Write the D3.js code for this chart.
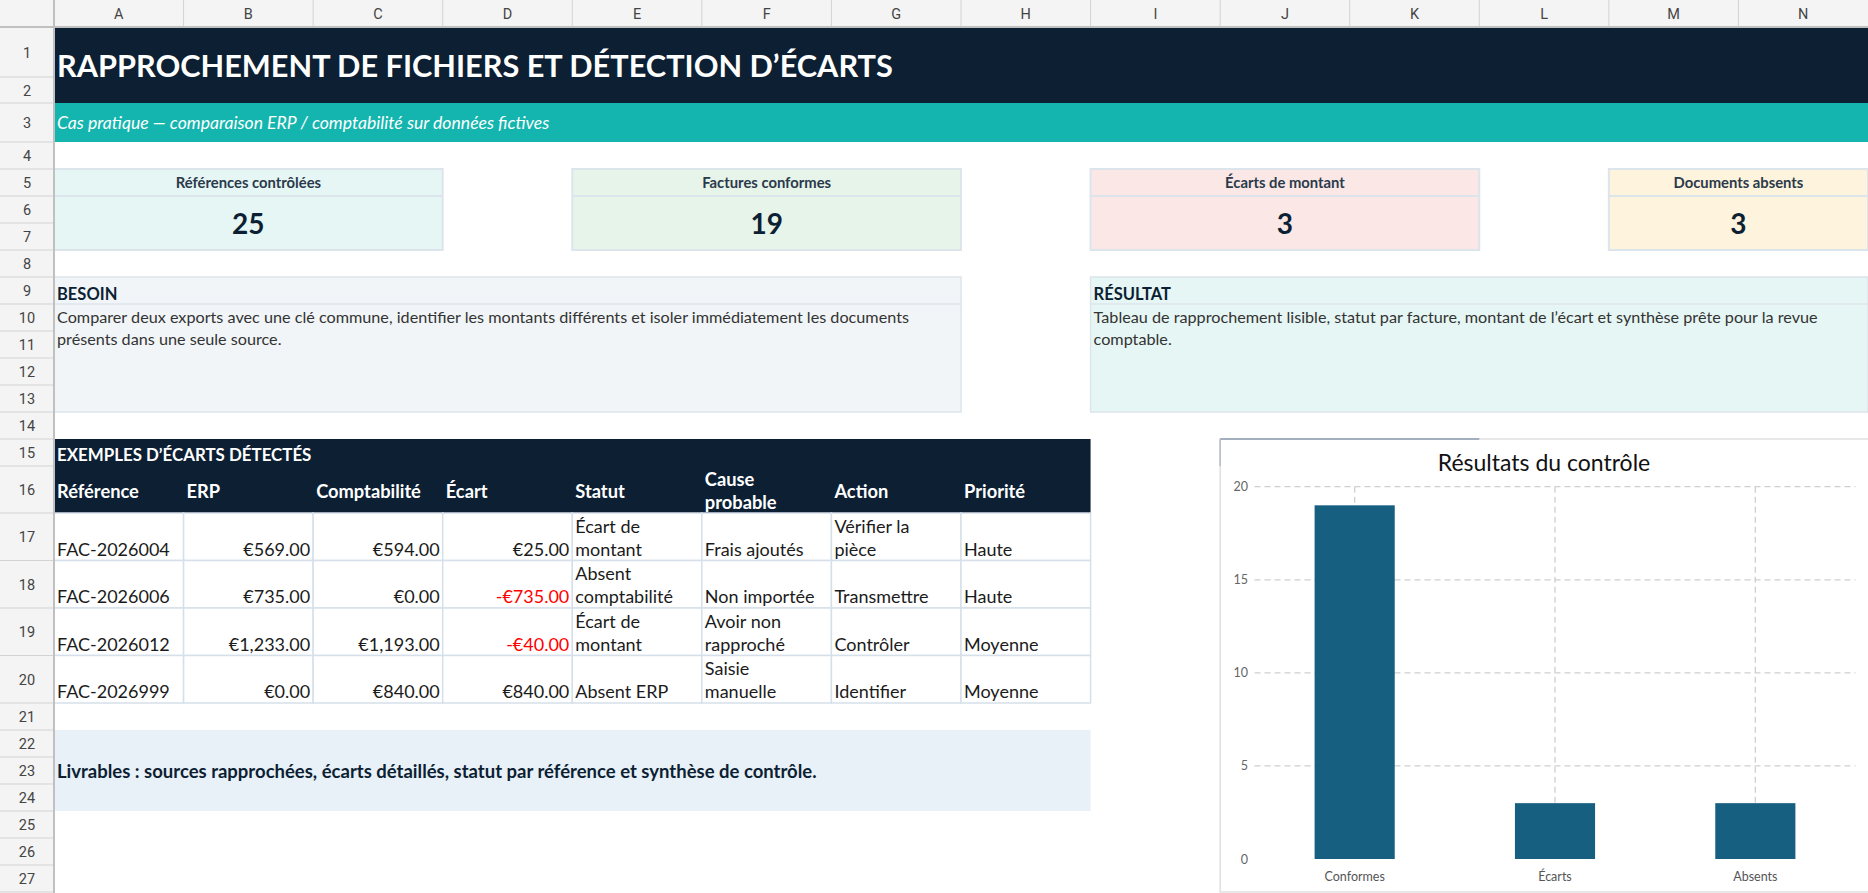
<!DOCTYPE html>
<html><head><meta charset="utf-8">
<script src="https://cdn.jsdelivr.net/npm/d3@7"></script>
<style>body{margin:0;background:#fff;overflow:hidden}svg{display:block}</style>
</head><body><svg id="s" width="1868" height="893"></svg>
<script>
// ---------- data ----------
const sheetTitle = "RAPPROCHEMENT DE FICHIERS ET DÉTECTION D’ÉCARTS";
const sheetSubtitle = "Cas pratique — comparaison ERP / comptabilité sur données fictives";
const colLetters = ["A","B","C","D","E","F","G","H","I","J","K","L","M","N"];
const kpiLabels = ["Références contrôlées","Factures conformes","Écarts de montant","Documents absents"];
const kpiValues = [25, 19, 3, 3];
const besoinTitle = "BESOIN";
const besoinText = "Comparer deux exports avec une clé commune, identifier les montants différents et isoler immédiatement les documents présents dans une seule source.";
const resultatTitle = "RÉSULTAT";
const resultatText = "Tableau de rapprochement lisible, statut par facture, montant de l’écart et synthèse prête pour la revue comptable.";
const tableTitle = "EXEMPLES D’ÉCARTS DÉTECTÉS";
const tableHeaders = ["Référence","ERP","Comptabilité","Écart","Statut","Cause probable","Action","Priorité"];
const references = ["FAC-2026004","FAC-2026006","FAC-2026012","FAC-2026999"];
const erpAmounts = [569, 735, 1233, 0];
const comptaAmounts = [594, 0, 1193, 840];
const ecartAmounts = [25, -735, -40, 840];
const statuts = ["Écart de montant","Absent comptabilité","Écart de montant","Absent ERP"];
const causes = ["Frais ajoutés","Non importée","Avoir non rapproché","Saisie manuelle"];
const actions = ["Vérifier la pièce","Transmettre","Contrôler","Identifier"];
const priorites = ["Haute","Haute","Moyenne","Moyenne"];
const livrablesText = "Livrables : sources rapprochées, écarts détaillés, statut par référence et synthèse de contrôle.";
const chartTitle = "Résultats du contrôle";
const chartCategories = ["Conformes","Écarts","Absents"];
const chartValues = [19, 3, 3];
const yTicks = [0, 5, 10, 15, 20];

// ---------- layout ----------
const W = 1868, H = 893;
const rowHeadW = 54, colHeadH = 27;
const colW = (W - rowHeadW) / 14;
const rowHeights = [50,26,39,27,27,27,27,27,27,27,27,27,27,27,27,47,47.5,47.5,47.5,47.5,27,27,27,27,27,27,27];
const rowTop = [colHeadH];
rowHeights.forEach((h,i)=>rowTop.push(rowTop[i]+h));
const cx = c => rowHeadW + c*colW;          // c: 0-based column index
const ry = r => rowTop[r-1];                 // r: 1-based row number
const FONT = "Lato, 'Noto Sans', sans-serif";
const NAVY = "#0c1f33";
const DATA_FS = 18, HEAD_FS = 18.3;
const WRAP_W = colW - 12;

const svg = d3.select("#s");
const ctx = document.createElement("canvas").getContext("2d");
function wrap(t, maxW, font){
  ctx.font = font;
  const words = t.split(" "); const lines=[]; let cur="";
  words.forEach(w=>{ const s = cur? cur+" "+w : w;
    if (ctx.measureText(s).width > maxW && cur){ lines.push(cur); cur=w; } else cur=s; });
  if(cur) lines.push(cur); return lines;
}
function rect(x,y,w,h,fill,stroke,sw){ return svg.append("rect").attr("x",x).attr("y",y).attr("width",w).attr("height",h)
  .attr("fill",fill||"none").attr("stroke",stroke||"none").attr("stroke-width",sw||1); }
function text(x,y,t,o){ o=o||{}; return svg.append("text").attr("x",x).attr("y",y).text(t)
  .attr("font-family",o.family||FONT).attr("font-size",o.size||17).attr("font-weight",o.weight||"normal")
  .attr("font-style",o.style||"normal").attr("fill",o.fill||"#1b1b1b").attr("text-anchor",o.anchor||"start"); }

rect(0,0,W,H,"#fff");

// ---------- banners ----------
rect(cx(0), ry(1), W-cx(0), ry(3)-ry(1), NAVY);
text(cx(0)+3, ry(1)+ (ry(3)-ry(1))/2 + 12, sheetTitle, {size:30.7, weight:"bold", fill:"#fff"});
rect(cx(0), ry(3), W-cx(0), rowHeights[2], "#13b5ae");
text(cx(0)+3, ry(3)+rowHeights[2]/2+6, sheetSubtitle, {size:17.6, style:"italic", fill:"#fff"});

// ---------- KPI cards ----------
const kpiCols = [[0,3],[4,7],[8,11],[12,14]];
const kpiFills = ["#e6f6f5","#e7f4ea","#fbe8e6","#fef3dc"];
kpiLabels.forEach((lab,i)=>{
  const x0=cx(kpiCols[i][0]), x1=cx(kpiCols[i][1]);
  const y0=ry(5), y1=ry(6), y2=ry(8);
  rect(x0,y0,x1-x0,y2-y0,kpiFills[i],"#dce5ec",2);
  svg.append("line").attr("x1",x0).attr("x2",x1).attr("y1",y1).attr("y2",y1).attr("stroke","#dce5ec").attr("stroke-width",2);
  text((x0+x1)/2, (y0+y1)/2+5.5, lab, {size:14.8, weight:"bold", fill:"#2b3a4a", anchor:"middle"});
  text((x0+x1)/2, (y1+y2)/2+11, kpiValues[i], {size:28, weight:"bold", fill:NAVY, anchor:"middle"});
});

// ---------- BESOIN / RÉSULTAT ----------
function infoBox(c0,c1,title,body,fill){
  const x0=cx(c0), x1=cx(c1), y0=ry(9), y1=ry(10), y2=ry(14);
  rect(x0,y0,x1-x0,y2-y0,fill,"#dce5ec",1.5);
  svg.append("line").attr("x1",x0).attr("x2",x1).attr("y1",y1).attr("y2",y1).attr("stroke","#dce5ec").attr("stroke-width",1.5);
  text(x0+3, y1-4.5, title, {size:16.5, weight:"bold", fill:NAVY});
  wrap(body, x1-x0-8, "16.2px Lato").forEach((l,k)=> text(x0+3, y1+19+k*22, l, {size:16.2, fill:"#333"}));
}
infoBox(0,7,besoinTitle,besoinText,"#f1f5f8");
infoBox(8,14,resultatTitle,resultatText,"#e5f6f4");

// ---------- table ----------
const tX0=cx(0), tX1=cx(8);
rect(tX0, ry(15), tX1-tX0, ry(17)-ry(15), NAVY);
text(tX0+3, ry(16)-5.5, tableTitle, {size:16.9, weight:"bold", fill:"#fff"});
const LH = 23;
tableHeaders.forEach((h,c)=>{
  const lines = wrap(h, WRAP_W, `bold ${HEAD_FS}px Lato`);
  const mid = (ry(16)+ry(17))/2;
  lines.forEach((l,k)=> text(cx(c)+3, mid - (lines.length-1)*LH/2 + k*LH + 8, l, {size:HEAD_FS, weight:"bold", fill:"#fff"}));
});
const money = v => (v<0?"-":"") + "€" + d3.format(",.2f")(Math.abs(v));
const rows = references.map((r,i)=>[r, erpAmounts[i], comptaAmounts[i], ecartAmounts[i], statuts[i], causes[i], actions[i], priorites[i]]);
rows.forEach((row,i)=>{
  const r = 17+i, y0=ry(r), y1=ry(r+1);
  row.forEach((v,c)=> rect(cx(c), y0, colW, y1-y0, "#fff", "#d6e0ea", 1.5));
  row.forEach((v,c)=>{
    if (typeof v === "number"){
      text(cx(c+1)-3, y1-5, money(v), {size:DATA_FS, anchor:"end", fill: v<0 ? "#ff0000" : "#1b1b1b"});
    } else {
      const lines = wrap(v, WRAP_W, `${DATA_FS}px Lato`);
      lines.forEach((l,k)=> text(cx(c)+3, y1-5-(lines.length-1-k)*LH, l, {size:DATA_FS}));
    }
  });
});

// ---------- livrables ----------
rect(cx(0), ry(22), cx(8)-cx(0), ry(25)-ry(22), "#e8f0f8");
text(cx(0)+3, (ry(22)+ry(25))/2+7, livrablesText, {size:18.5, weight:"bold", fill:NAVY});

// ---------- chart ----------
const chX = cx(9), chY = ry(15);
rect(chX, chY, W-chX+5, H-chY-1, "#fff", "#d9d9d9", 1.2);
svg.append("line").attr("x1",chX).attr("x2",cx(11)).attr("y1",chY).attr("y2",chY).attr("stroke","#8d9bb0").attr("stroke-width",1.5);
svg.append("line").attr("x1",chX).attr("x2",chX).attr("y1",chY).attr("y2",ry(16)).attr("stroke","#b5bcc6").attr("stroke-width",1.5);
text(1544, 471, chartTitle, {size:23, fill:"#111", anchor:"middle"});
const x = d3.scaleBand().domain(chartCategories).range([1254.5, 1855.5]).paddingInner(0.6).paddingOuter(0.3);
const y = d3.scaleLinear().domain([0,20]).range([859, 486.7]);
const g = svg.append("g");
g.selectAll(".hg").data(yTicks.filter(t=>t>0)).join("line")
  .attr("x1",1254.5).attr("x2",1855.5).attr("y1",d=>y(d)).attr("y2",d=>y(d))
  .attr("stroke","#cfcfcf").attr("stroke-width",1.3).attr("stroke-dasharray","6,4");
g.selectAll(".vg").data(chartCategories).join("line")
  .attr("x1",d=>x(d)+x.bandwidth()/2).attr("x2",d=>x(d)+x.bandwidth()/2).attr("y1",y(20)).attr("y2",y(0))
  .attr("stroke","#cfcfcf").attr("stroke-width",1.3).attr("stroke-dasharray","6,4");
g.selectAll(".bar").data(chartValues).join("rect")
  .attr("x",(d,i)=>x(chartCategories[i])).attr("width",x.bandwidth())
  .attr("y",d=>y(d)).attr("height",d=>y(0)-y(d)).attr("fill","#175f80");
const ya = svg.append("g").attr("transform","translate(1250,0)")
  .call(d3.axisLeft(y).tickValues(yTicks).tickSize(0).tickPadding(2));
ya.select(".domain").remove();
ya.selectAll("text").attr("font-family",FONT).attr("font-size",12.5).attr("fill","#666");
const xa = svg.append("g").attr("transform",`translate(0,${y(0)})`)
  .call(d3.axisBottom(x).tickSize(0).tickPadding(13));
xa.select(".domain").remove();
xa.selectAll("text").attr("font-family",FONT).attr("font-size",12.5).attr("fill","#555");

// ---------- sheet headers ----------
rect(0,0,W,colHeadH,"#f4f4f4");
colLetters.forEach((l,c)=>{
  svg.append("line").attr("x1",cx(c)).attr("x2",cx(c)).attr("y1",0).attr("y2",colHeadH).attr("stroke","#d3d3d3");
  text(cx(c)+colW/2, 19, l, {family:"Roboto, Arial, sans-serif", size:14.5, fill:"#444", anchor:"middle"});
});
rect(0,colHeadH,rowHeadW,H-colHeadH,"#f4f4f4");
rowHeights.forEach((h,i)=>{
  const y0=rowTop[i], y1=rowTop[i+1];
  svg.append("line").attr("x1",0).attr("x2",rowHeadW).attr("y1",y1).attr("y2",y1).attr("stroke","#d3d3d3");
  text(rowHeadW/2, (y0+y1)/2+5.5, i+1, {family:"Roboto, Arial, sans-serif", size:14.5, fill:"#444", anchor:"middle"});
});
svg.append("line").attr("x1",0).attr("x2",W).attr("y1",colHeadH).attr("y2",colHeadH).attr("stroke","#c0c0c0").attr("stroke-width",2);
svg.append("line").attr("x1",rowHeadW).attr("x2",rowHeadW).attr("y1",0).attr("y2",H).attr("stroke","#c0c0c0").attr("stroke-width",2);
</script></body></html>
